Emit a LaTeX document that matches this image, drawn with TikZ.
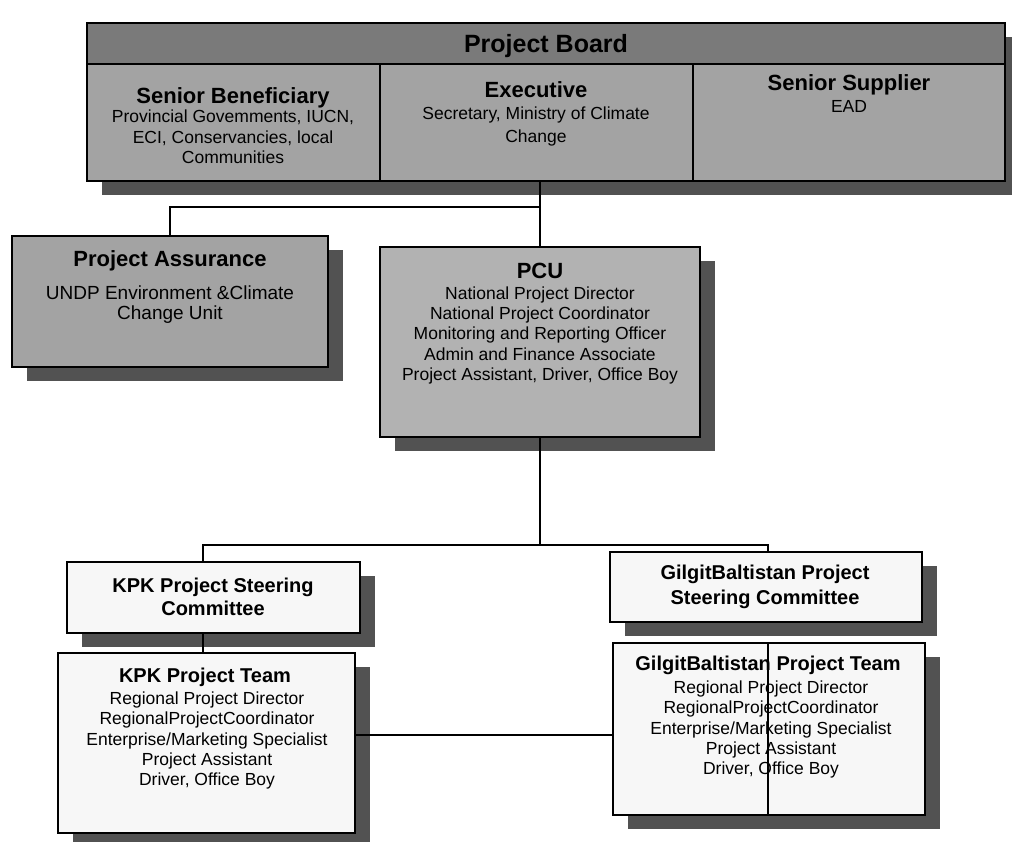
\documentclass[tikz,border=0pt]{standalone}
\usepackage{fontspec}
\setmainfont{Liberation Sans}
\usetikzlibrary{shadows}
\definecolor{bandc}{gray}{0.48}
\definecolor{cellc}{gray}{0.64}
\definecolor{pcuc}{gray}{0.70}
\definecolor{shadc}{gray}{0.32}
\definecolor{lightc}{gray}{0.97}
\tikzset{
  obox/.style={draw=black, line width=1.6pt, anchor=north west, inner sep=0pt, outer sep=0pt},
  shadA/.style={drop shadow={shadow xshift=15pt, shadow yshift=-14pt, fill=shadc, opacity=1}},
  conn/.style={draw=black, line width=1.5pt},
  bigttl/.style={font=\fontsize{25}{27}\selectfont\bfseries, inner sep=0pt, anchor=base},
  ttl/.style={font=\fontsize{22}{24}\selectfont\bfseries, inner sep=0pt, anchor=base},
  sttl/.style={font=\fontsize{20}{23}\selectfont\bfseries, inner sep=0pt, anchor=north, align=center},
  bdy/.style={font=\fontsize{17.5}{20.3}\selectfont, align=center, inner sep=0pt, anchor=north},
  pabdy/.style={font=\fontsize{19}{20.3}\selectfont, align=center, inner sep=0pt, anchor=north},
}
\begin{document}
\begin{tikzpicture}[x=1pt,y=-1pt]
\fill[white] (0,0) rectangle (1012,841);
\path[use as bounding box] (0,0) rectangle (1012,841);

% Project Board
\node[obox, fill=cellc, shadA, minimum width=918pt, minimum height=158pt] (board) at (87,23) {};
\node[obox, fill=bandc, minimum width=918pt, minimum height=41pt] (band) at (87,23) {};
\node[obox, fill=cellc, minimum width=293pt, minimum height=117pt] (sb) at (87,64) {};
\node[obox, fill=cellc, minimum width=313pt, minimum height=117pt] (ex) at (380,64) {};
\node[obox, fill=cellc, minimum width=312pt, minimum height=117pt] (ss) at (693,64) {};

% Project Assurance and PCU
\node[obox, fill=cellc, shadA, minimum width=316pt, minimum height=131pt] (pa) at (12,236) {};
\node[obox, fill=pcuc, shadA, minimum width=320pt, minimum height=190pt] (pcu) at (380,247) {};

% Regional boxes
\node[obox, fill=lightc, shadA, minimum width=293pt, minimum height=71pt] (kpks) at (67,562) {};
\node[obox, fill=lightc, shadA, minimum width=297pt, minimum height=180pt] (kpkt) at (58,653) {};
\node[obox, fill=lightc, shadA, minimum width=312pt, minimum height=70pt] (gbs) at (610,552) {};
\node[obox, fill=lightc, shadA, minimum width=312pt, minimum height=172pt] (gbt) at (613,643) {};

% Texts
\node[bigttl] (tpb) at (546,52) {Project Board};
\node[ttl] (tsb) at (233,103) {Senior Beneficiary};
\node[bdy] (bsb) at (233,110) {Provincial Govemments, IUCN,\\ECI, Conservancies, local\\Communities};
\node[ttl] (tex) at (536,97) {Executive};
\node[bdy, font=\fontsize{17.5}{23}\selectfont] (bex) at (536,106.5) {Secretary, Ministry of Climate\\Change};
\node[ttl] (tss) at (849,90) {Senior Supplier};
\node[bdy] (bss) at (849,100) {EAD};

\node[ttl] (tpa) at (170,266) {Project Assurance};
\node[pabdy] (bpa) at (170,285.5) {UNDP Environment \&Climate\\Change Unit};

\node[ttl] (tpcu) at (540,278) {PCU};
\node[bdy] (bpcu) at (540,286.5) {National Project Director\\National Project Coordinator\\Monitoring and Reporting Officer\\Admin and Finance Associate\\Project Assistant, Driver, Office Boy};

\node[sttl] (tkpks) at (213,578) {KPK Project Steering\\Committee};
\node[sttl, anchor=base] (tkpkt) at (205,682) {KPK Project Team};
\node[bdy] (bkpkt) at (207,691.7) {Regional Project Director\\RegionalProjectCoordinator\\Enterprise/Marketing Specialist\\Project Assistant\\Driver, Office Boy};

\node[sttl, font=\fontsize{20}{24.5}\selectfont\bfseries] (tgbs) at (765,565) {GilgitBaltistan Project\\Steering Committee};
\node[sttl, anchor=base] (tgbt) at (768,670) {GilgitBaltistan Project Team};
\node[bdy] (bgbt) at (771,680.7) {Regional Project Director\\RegionalProjectCoordinator\\Enterprise/Marketing Specialist\\Project Assistant\\Driver, Office Boy};

% Connectors
\coordinate (j1) at (540,207);
\draw[conn] (board.south -| j1) -- (j1) -| (pa.north);
\draw[conn] (j1) -- (pcu.north);
\coordinate (j2) at (540,545);
\draw[conn] (pcu.south) -- (j2);
\coordinate (k1) at (203,545);
\draw[conn] (j2) -- (k1) -- (k1 |- kpks.north);
\draw[conn] (k1 |- kpks.south) -- (k1 |- kpkt.north);
\coordinate (g1) at (768,545);
\draw[conn] (j2) -- (g1) -- (g1 |- gbs.north);
\draw[conn] (g1 |- gbt.north) -- (g1 |- gbt.south);
\draw[conn] ([yshift=8pt]kpkt.east) -- ([yshift=8pt]kpkt.east -| gbt.west);
\end{tikzpicture}
\end{document}
